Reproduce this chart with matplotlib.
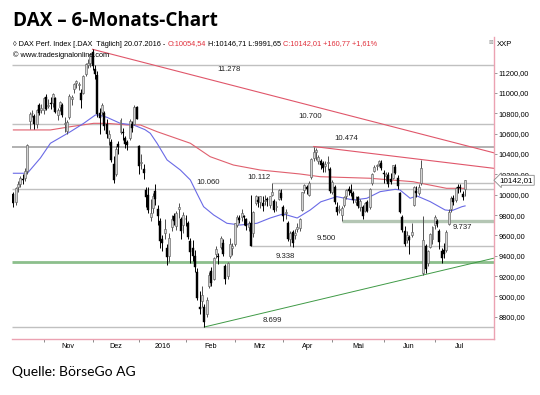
import matplotlib
matplotlib.use('Agg')
import matplotlib.pyplot as plt
import matplotlib.transforms as mtransforms

# Tageskerzen (Open, High, Low, Close), 14.10.2015 - 20.07.2016
okt15 = [(10010, 10025, 9880, 9915), (9930, 10080, 9900, 10065), (10080, 10130, 10030, 10104),
         (10110, 10185, 10080, 10165), (10150, 10200, 10110, 10147), (10160, 10260, 10130, 10238),
         (10230, 10500, 10200, 10492), (10720, 10810, 10650, 10795), (10800, 10830, 10760, 10801),
         (10770, 10790, 10650, 10692), (10700, 10840, 10660, 10832), (10880, 10900, 10780, 10801),
         (10830, 10890, 10800, 10850)]
nov15 = [(10830, 10960, 10790, 10951), (10960, 10990, 10830, 10846), (10870, 10940, 10850, 10887),
         (10900, 10960, 10840, 10888), (10900, 11000, 10860, 10988), (10950, 10960, 10800, 10815),
         (10780, 10850, 10730, 10833), (10860, 10920, 10820, 10907), (10880, 10900, 10760, 10783),
         (10700, 10760, 10620, 10708), (10630, 10730, 10600, 10713), (10760, 10990, 10740, 10971),
         (10940, 10980, 10880, 10960), (11040, 11100, 11000, 11085), (11100, 11130, 11050, 11120),
         (11080, 11110, 11030, 11092), (11000, 11040, 10850, 10934), (11000, 11180, 10990, 11169),
         (11190, 11300, 11170, 11285), (11280, 11330, 11250, 11294), (11300, 11390, 11260, 11382)]
dez15 = [(11400, 11430, 11230, 11261), (11240, 11280, 11140, 11190), (11180, 11220, 10760, 10789),
         (10800, 10850, 10600, 10752), (10810, 10900, 10780, 10887), (10800, 10820, 10640, 10673),
         (10700, 10740, 10560, 10593), (10560, 10640, 10490, 10598), (10520, 10550, 10320, 10340),
         (10300, 10380, 10120, 10140), (10200, 10480, 10180, 10451), (10500, 10530, 10400, 10470),
         (10620, 10750, 10600, 10738), (10620, 10660, 10540, 10609), (10560, 10580, 10460, 10497),
         (10520, 10540, 10440, 10489), (10560, 10740, 10540, 10727), (10700, 10720, 10620, 10653),
         (10700, 10880, 10690, 10860), (10860, 10870, 10740, 10743)]
jan16 = [(10480, 10490, 10200, 10283), (10310, 10400, 10250, 10310), (10250, 10300, 10150, 10214),
         (10050, 10080, 9880, 9979), (10000, 10080, 9820, 9849), (9780, 9960, 9740, 9825),
         (9870, 10020, 9820, 9985), (10040, 10110, 9900, 9960), (9860, 9900, 9700, 9794),
         (9740, 9770, 9480, 9545), (9560, 9600, 9450, 9521), (9620, 9760, 9560, 9664),
         (9480, 9520, 9310, 9392), (9400, 9620, 9340, 9574), (9680, 9800, 9640, 9764),
         (9790, 9820, 9700, 9737), (9690, 9840, 9650, 9823), (9860, 9920, 9770, 9880),
         (9760, 9780, 9560, 9640), (9700, 9830, 9620, 9798)]
feb16 = [(9760, 9800, 9690, 9758), (9720, 9740, 9560, 9582), (9540, 9570, 9330, 9434),
         (9480, 9550, 9350, 9393), (9400, 9460, 9240, 9286), (9240, 9280, 8960, 8980),
         (8900, 9050, 8830, 8879), (8950, 9100, 8900, 9017), (8900, 8930, 8699, 8752),
         (8830, 8990, 8800, 8967), (9100, 9240, 9080, 9207), (9250, 9290, 9100, 9135),
         (9170, 9390, 9160, 9377), (9420, 9500, 9380, 9463), (9400, 9430, 9320, 9388),
         (9490, 9590, 9470, 9573), (9530, 9560, 9400, 9417), (9300, 9320, 9120, 9167),
         (9200, 9340, 9170, 9331), (9400, 9570, 9380, 9513), (9480, 9530, 9410, 9495)]
mrz16 = [(9520, 9720, 9500, 9717), (9700, 9800, 9680, 9777), (9770, 9800, 9720, 9752),
         (9780, 9860, 9740, 9824), (9790, 9800, 9700, 9778), (9760, 9770, 9650, 9693),
         (9680, 9740, 9640, 9723), (9720, 9995, 9500, 9498), (9620, 9840, 9580, 9831),
         (9920, 10000, 9900, 9990), (9950, 9990, 9880, 9933), (9930, 9990, 9870, 9984),
         (9920, 9990, 9840, 9893), (9940, 10000, 9900, 9951), (9960, 9980, 9890, 9949),
         (9900, 9990, 9870, 9991), (10000, 10112, 9990, 10022), (9940, 9960, 9830, 9851),
         (9880, 9940, 9840, 9887), (9960, 10060, 9950, 10046), (10020, 10060, 9950, 9966)]
apr16 = [(9880, 9900, 9740, 9795), (9820, 9860, 9760, 9822), (9720, 9740, 9540, 9564),
         (9560, 9640, 9500, 9624), (9630, 9650, 9490, 9530), (9600, 9660, 9560, 9622),
         (9660, 9720, 9630, 9683), (9670, 9770, 9640, 9762), (9850, 10030, 9840, 10027),
         (10050, 10110, 10020, 10094), (10080, 10100, 10010, 10052), (10000, 10130, 9990, 10120),
         (10170, 10360, 10150, 10350), (10360, 10474, 10330, 10421), (10420, 10460, 10340, 10436),
         (10330, 10390, 10300, 10373), (10330, 10350, 10250, 10294), (10310, 10330, 10220, 10260),
         (10280, 10330, 10220, 10300), (10310, 10380, 10240, 10322), (10250, 10270, 10020, 10039)]
mai16 = [(10030, 10140, 10010, 10123), (10080, 10100, 9910, 9926), (9880, 9930, 9800, 9829),
         (9850, 9900, 9820, 9852), (9800, 9890, 9740, 9870), (9900, 9990, 9880, 9980),
         (9990, 10060, 9960, 10046), (10060, 10090, 10000, 10037), (10050, 10110, 9990, 10016),
         (10020, 10040, 9920, 9952), (9930, 9990, 9900, 9952), (9980, 9990, 9870, 9891),
         (9880, 9960, 9840, 9943), (9880, 9900, 9760, 9795), (9840, 9930, 9830, 9916),
         (9930, 9950, 9830, 9842), (9880, 10070, 9860, 10057), (10120, 10210, 10100, 10205),
         (10230, 10290, 10220, 10272), (10280, 10300, 10240, 10287), (10300, 10340, 10280, 10333),
         (10310, 10340, 10240, 10263)]
jun16 = [(10210, 10240, 10120, 10205), (10180, 10220, 10130, 10208), (10190, 10220, 10080, 10103),
         (10150, 10210, 10110, 10122), (10160, 10290, 10150, 10288), (10270, 10300, 10200, 10218),
         (10160, 10190, 10060, 10089), (10020, 10030, 9820, 9834), (9780, 9800, 9630, 9657),
         (9640, 9690, 9500, 9520), (9550, 9640, 9530, 9607), (9580, 9600, 9420, 9550),
         (9600, 9720, 9580, 9631), (9900, 10090, 9890, 10072), (10040, 10090, 9980, 10016),
         (10020, 10110, 10000, 10071), (10120, 10340, 10100, 10258), (9230, 9790, 9214, 9557),
         (9500, 9520, 9230, 9269), (9330, 9460, 9300, 9448), (9490, 9620, 9480, 9613),
         (9560, 9690, 9520, 9680)]
jul16 = [(9700, 9800, 9660, 9776), (9740, 9760, 9680, 9710), (9640, 9660, 9470, 9533),
         (9450, 9480, 9330, 9374), (9460, 9530, 9380, 9419), (9460, 9650, 9440, 9630),
         (9710, 9860, 9700, 9834), (9860, 9990, 9830, 9965), (9970, 10000, 9900, 9930),
         (9950, 10080, 9930, 10068), (10080, 10110, 10020, 10067), (10070, 10110, 10030, 10064),
         (10010, 10040, 9950, 9981), (10055, 10147, 9992, 10142)]

monate = [okt15, nov15, dez15, jan16, feb16, mrz16, apr16, mai16, jun16, jul16]
monat_labels = ['Nov', 'Dez', '2016', 'Feb', 'Mrz', 'Apr', 'Mai', 'Jun', 'Jul']
handelstage_jul = 21

# gleitende Durchschnitte (Index Handelstag, Wert)
ma_blau_x = [0, 6, 11.6, 15.9, 24.5, 30.2, 35.2, 36.6, 40.2, 45.9, 51.6, 56.5, 58.8, 61.7, 66,
             71.7, 76, 78.8, 81.7, 86, 91.7, 97.4, 104.6, 110.3, 115.9, 121.9, 127.5, 132,
             138.9, 146, 151.8, 157.5, 164, 166, 170.4, 173.3, 179, 185.4, 188.3, 192.6, 194]
ma_blau_y = [10211, 10211, 10361, 10506, 10620, 10702, 10784, 10784, 10761, 10702, 10686, 10640,
             10604, 10506, 10342, 10243, 10145, 10014, 9882, 9801, 9719, 9702, 9719, 9771, 9811,
             9771, 9850, 9930, 9981, 9948, 9965, 10030, 10053, 10047, 9965, 9988, 9932, 9850,
             9843, 9882, 9890]
ma_rot_x = [0, 15.9, 24.5, 34.5, 40.2, 48.8, 54.5, 61.7, 76, 84.5, 94.5, 106, 123, 131.8, 153,
            171.6, 186, 194]
ma_rot_y = [10637, 10637, 10669, 10702, 10702, 10686, 10686, 10620, 10506, 10374, 10292, 10243,
            10204, 10177, 10162, 10128, 10063, 10063]

# horizontale Marken und ab welchem Handelstag sie gezeichnet sind
marken = [11278, 10700, 10474, 10112, 10060, 9737, 9500, 9338, 8699]
marken_start = [None, None, None, 111, None, 141, 102, None, None]

# Trendlinien (Start, Ende)
trend_oben_x, trend_oben_y = [34, 206.2], [11430, 10413]
trend_mitte_x, trend_mitte_y = [129, 206.2], [10474, 10260]
trend_unten_x, trend_unten_y = [82, 206.2], [8699, 9375]

letzter_kurs = 10142.01

# ---------------------------------------------------------------
W, H = 540, 395
fig = plt.figure(figsize=(W / 100, H / 100), dpi=100)
ax = fig.add_axes([12 / W, 1 - 339 / H, 481.5 / W, 302 / H])

kerzen = [k for m in monate for k in m]
n = len(kerzen)
o = [k[0] for k in kerzen]
hi = [k[1] for k in kerzen]
lo = [k[2] for k in kerzen]
c = [k[3] for k in kerzen]

XMAX = 206.2
ax.set_xlim(-0.6, XMAX)
ax.set_ylim(8581, 11551)

# Marken
for lvl, start in zip(marken, marken_start):
    x0 = -0.6 if start is None else start
    if lvl == 9338:
        farbe, lw = '#8cbf8c', 2.0
    elif lvl == 9737:
        farbe, lw = '#b4c6b4', 2.4
    elif lvl == 10474:
        farbe, lw = '#a4a4a4', 1.2
    else:
        farbe, lw = '#c0c0c0', 1.0
    ax.plot([x0, XMAX], [lvl, lvl], color=farbe, lw=lw, zorder=1, solid_capstyle='butt')

# Beschriftung der Marken: (x-Index, Versatz in Pixel)
label_pos = [(92.7, -5), (127.5, 7), (142.9, 8), (105.6, 5.5), (83.7, 6), (192.7, -6),
             (134.3, 7.5), (116.7, 6), (111.2, 7)]
for lvl, (lx, dy) in zip(marken, label_pos):
    txt = f"{lvl:,}".replace(',', '.')
    ax.annotate(txt, (lx, lvl), xytext=(0, dy), textcoords='offset pixels',
                ha='center', va='center', fontsize=5.6, family='Liberation Sans',
                color='#222222', zorder=6)

# Trendlinien
ax.plot(trend_oben_x, trend_oben_y, color='#e0566a', lw=0.8, zorder=2)
ax.plot(trend_mitte_x, trend_mitte_y, color='#e0566a', lw=0.8, zorder=2)
ax.plot(trend_unten_x, trend_unten_y, color='#3f9a46', lw=0.7, zorder=2)

# Durchschnitte
ax.plot(ma_rot_x, ma_rot_y, color='#e0606e', lw=0.8, zorder=3)
ax.plot(ma_blau_x, ma_blau_y, color='#6a6ae6', lw=0.8, zorder=3)

# Kerzen
for i in range(n):
    up = c[i] >= o[i]
    wick_col = '#505050' if up else 'black'
    ax.vlines(i, lo[i], hi[i], colors=wick_col, lw=0.7, zorder=4)
    unten = min(o[i], c[i])
    hoehe = max(abs(c[i] - o[i]), 8)
    if up:
        ax.bar(i, hoehe, bottom=unten, width=0.85, color='#d4d4d4', edgecolor='#606060',
               lw=0.45, zorder=5)
    else:
        ax.bar(i, hoehe, bottom=unten, width=0.85, color='black', edgecolor='black',
               lw=0.3, zorder=5)

# Achsen
for s in ['left', 'top']:
    ax.spines[s].set_visible(False)
for s in ['right', 'bottom']:
    ax.spines[s].set_color('#eba2b2')
    ax.spines[s].set_linewidth(1.0)

ax.yaxis.tick_right()
yt = list(range(8800, 11201, 200))
ax.set_yticks(yt)
ax.set_yticklabels([f"{v},00" for v in yt], family='Liberation Sans', fontsize=5.3)
ax.tick_params(axis='y', length=2, width=0.6, color='#888888', pad=1.5)

# Monatsanfaenge (Index des ersten Handelstags)
starts = []
pos = len(monate[0])
for m in monate[1:]:
    starts.append(pos)
    pos += len(m)
ends = starts[1:] + [starts[-1] + handelstage_jul]
mids = [(a + b) / 2 for a, b in zip(starts, ends)]
ax.set_xticks(starts)
ax.set_xticklabels([])
ax.tick_params(axis='x', which='major', length=2, width=0.6, color='#777777')
ax.set_xticks(mids, minor=True)
ax.set_xticklabels(monat_labels, minor=True, family='Liberation Sans', fontsize=5.2)
ax.tick_params(axis='x', which='minor', length=0, pad=3)

# letzter Kurs am rechten Rand
tr = mtransforms.blended_transform_factory(ax.transAxes, ax.transData)
ax.text(1.012, letzter_kurs, f"{letzter_kurs:.2f}".replace('.', ','), transform=tr,
        ha='left', va='center', fontsize=5.8, family='Liberation Sans', zorder=10,
        bbox=dict(boxstyle='larrow,pad=0.18', fc='white', ec='#8a8a8a', lw=0.6),
        clip_on=False)

# Kopfzeilen
fig.text(13 / W, 1 - 21 / H, 'DAX – 6-Monats-Chart', fontsize=13.6, weight='bold',
         family=['Open Sans', 'DejaVu Sans'], va='center', ha='left')

teile = [('\u25CA DAX Perf. Index [.DAX  Täglich] 20.07.2016 - ', 'black'),
         ('O:10054,54', '#e0303c'),
         (' H:10146,71 L:9991,65 ', 'black'),
         ('C:10142,01 +160,77 +1,61%', '#e0303c')]
kopf = []
for txt, col in teile:
    kopf.append(fig.text(13 / W, 1 - 44 / H, txt, fontsize=5.3, color=col,
                         family=['Liberation Sans', 'DejaVu Sans'], va='center', ha='left'))
fig.canvas.draw()
r = fig.canvas.get_renderer()
for prev, t in zip(kopf[:-1], kopf[1:]):
    bb = prev.get_window_extent(r)
    t.set_position((bb.x1 / W, 1 - 44 / H))
    fig.canvas.draw()

fig.text(13 / W, 1 - 55 / H, '© www.tradesignalonline.com', fontsize=5.3, color='black',
         family='Liberation Sans', va='center', ha='left')
fig.text(497 / W, 1 - 44 / H, 'XXP', fontsize=5.6, family='Liberation Sans',
         va='center', ha='left')
fig.text(491 / W, 1 - 43 / H, '\u22A0', fontsize=4, color='#999999',
         family='DejaVu Sans', va='center', ha='center')

fig.text(12 / W, 1 - 372 / H, 'Quelle: BörseGo AG', fontsize=10,
         family=['Lato', 'DejaVu Sans'], va='center', ha='left')

fig.savefig('out.png', dpi=100)
